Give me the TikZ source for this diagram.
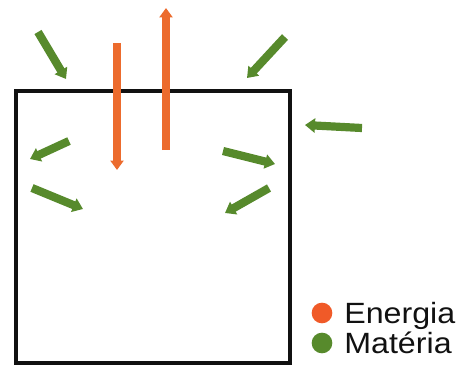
\documentclass[tikz,border=0pt]{standalone}
\usepackage{fontspec}
\setmainfont{Liberation Sans}
\usepackage{xcolor}
\usetikzlibrary{arrows.meta,positioning}
\definecolor{Energy}{HTML}{EC6B2D}
\definecolor{EnergyDot}{HTML}{F05A28}
\definecolor{Matter}{HTML}{578A2C}
\definecolor{Ink}{HTML}{111111}
\tikzset{
  system/.style={draw=Ink,line width=3pt},
  energia/.style={-{Triangle[length=8pt,width=11pt]},draw=Energy,line width=6.5pt},
  materia/.style={-{Triangle[length=8.5pt,width=12pt]},draw=Matter,line width=7pt},
  dot/.style={circle,inner sep=0pt,minimum size=0.62cm},
  legend/.style={font=\fontsize{25}{28}\selectfont,text=Ink,inner sep=0pt,anchor=base west,xscale=1.1,transform shape}
}
\begin{document}
\begin{tikzpicture}[x=0.03cm,y=-0.03cm]
  \useasboundingbox (0,0) rectangle (461,367);
  % open system
  \draw[system] (16,91) rectangle (290,363);
  % energy in and out
  \coordinate (e1a) at (117,43);  \coordinate (e1b) at (117,170);
  \coordinate (e2a) at (166,150); \coordinate (e2b) at (166,8);
  \draw[energia] (e1a) -- (e1b);
  \draw[energia] (e2a) -- (e2b);
  % matter exchanged
  \coordinate (m1a) at (38,32);   \coordinate (m1b) at (66,79);
  \coordinate (m2a) at (285,37);  \coordinate (m2b) at (247,78);
  \coordinate (m3a) at (362,128); \coordinate (m3b) at (305,125);
  \coordinate (m4a) at (69,141);  \coordinate (m4b) at (30,159);
  \coordinate (m5a) at (32,188);  \coordinate (m5b) at (83,209);
  \coordinate (m6a) at (223,151); \coordinate (m6b) at (275,164);
  \coordinate (m7a) at (269,188); \coordinate (m7b) at (225,213);
  \foreach \m in {1,...,7}
    \draw[materia] (m\m a) -- (m\m b);
  % legend
  \node[dot,fill=EnergyDot] (edot) at (322,313) {};
  \node[dot,fill=Matter] (mdot) at (322,343) {};
  \node[legend] (elab) at (344,323) {Energia};
  \node[legend] (mlab) at (344,353) {Matéria};
\end{tikzpicture}
\end{document}
